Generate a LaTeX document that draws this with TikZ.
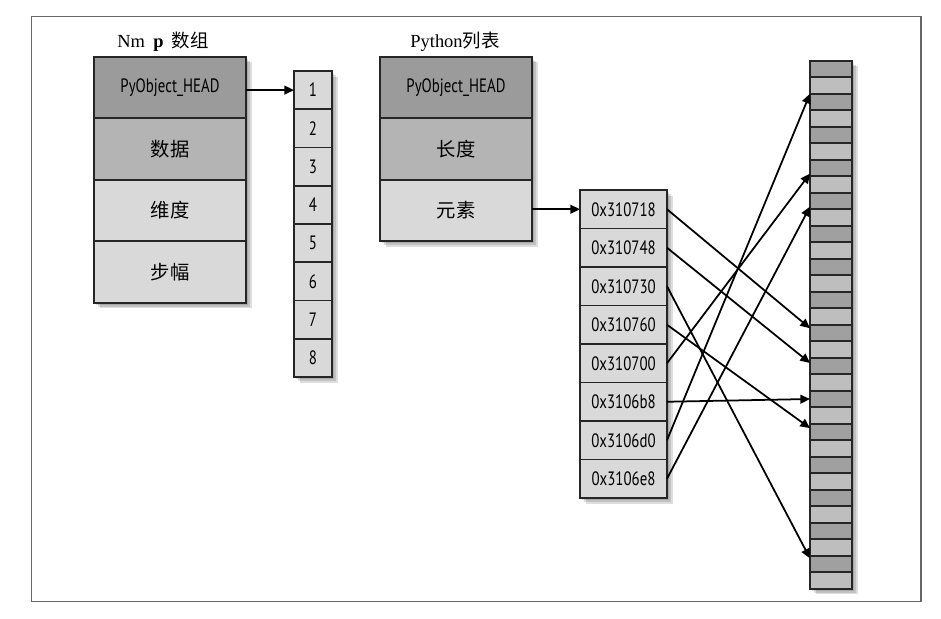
\documentclass[tikz,border=0pt]{standalone}
\usepackage{fontspec}
\setmainfont{Liberation Serif}
\newfontfamily\cjkfont{Noto Sans CJK SC}
\newfontfamily\boxfont[FakeStretch=0.77]{PT Sans}
\usetikzlibrary{arrows.meta,positioning,backgrounds}
\definecolor{cellhead}{HTML}{9B9B9B}
\definecolor{cellmid}{HTML}{B4B4B4}
\definecolor{celllight}{HTML}{D9D9D9}
\definecolor{memdark}{HTML}{A0A0A0}
\definecolor{memlight}{HTML}{BEBEBE}
\newcommand\zh[1]{{\cjkfont #1}}
\newcommand\boxshadow[2]{%
  \foreach \s in {1.2,2.2,3.2}
    \fill[black,opacity=0.13] ([shift={(\s pt,-\s pt)}]#1.north west)
      rectangle ([shift={(\s pt,-\s pt)}]#2.south east);}

\begin{document}
\begin{tikzpicture}[x=0.02cm,y=-0.02cm,
    cell/.style={draw=black!85,line width=1.1pt,inner sep=0pt,outer sep=0pt,
      font=\boxfont\fontsize{11}{13}\selectfont},
    field/.style={cell,minimum width=3.04cm,minimum height=1.23cm},
    slot/.style={cell,fill=celllight,minimum width=0.76cm,minimum height=0.765cm},
    addr/.style={cell,fill=celllight,minimum width=1.74cm,minimum height=0.77cm},
    memcell/.style={cell,minimum width=0.84cm,minimum height=0.33cm},
    ptr/.style={-{Triangle[length=5.5pt,width=5pt]},line width=1pt},
    title/.style={anchor=base,font=\fontsize{10.5}{12}\selectfont}]
  \useasboundingbox (0,0) rectangle (941,619);
  \draw[black!60,line width=0.6pt] (31.7,16.3) rectangle (921,601.7);

  % NumPy array
  \node[title] (np-title) at (163,47) {Nm\hspace{0.45em}\textbf{p}\hspace{0.45em}\zh{数组}};
  \node[field,fill=cellhead] (np-head) at (170,87.5) {PyObject\_HEAD};
  \node[field,fill=cellmid,below=0pt of np-head] (np-data) {\zh{数据}};
  \node[field,fill=celllight,below=0pt of np-data] (np-dims) {\zh{维度}};
  \node[field,fill=celllight,below=0pt of np-dims] (np-strides) {\zh{步幅}};
  \foreach \i in {1,...,8}
    \node[slot] (d\i) at (313,{90.1+38.25*(\i-1)}) {\i};

  % Python list
  \node[title] (py-title) at (455,47) {Python\zh{列表}};
  \node[field,fill=cellhead] (py-head) at (456,87.5) {PyObject\_HEAD};
  \node[field,fill=cellmid,below=0pt of py-head] (py-len) {\zh{长度}};
  \node[field,fill=celllight,below=0pt of py-len] (py-items) {\zh{元素}};
  \foreach \a [count=\i] in {310718,310748,310730,310760,310700,3106b8,3106d0,3106e8}
    \node[addr] (a\i) at (623.5,{209.25+38.5*(\i-1)}) {0x\a};

  % memory
  \foreach \i in {0,...,31} {
    \ifodd\i\def\memfill{memlight}\else\def\memfill{memdark}\fi
    \node[memcell,fill=\memfill] (m\i) at (831,{69+16.5*\i}) {};
  }

  \begin{scope}[on background layer]
    \boxshadow{np-head}{np-strides}
    \boxshadow{d1}{d8}
    \boxshadow{py-head}{py-items}
    \boxshadow{a1}{a8}
    \boxshadow{m0}{m31}
  \end{scope}

  \draw[ptr] (np-head.east|-d1.west) -- (d1.west);
  \draw[ptr] (py-items.east|-a1.west) -- (a1.west);
  \draw[ptr] (a1.east) -- ([yshift=-2pt]m16.north west);
  \draw[ptr] (a2.east) -- ([yshift=-3pt]m18.north west);
  \draw[ptr] (a3.east) -- ([yshift=-1.5pt]m30.north west);
  \draw[ptr] (a4.east) -- ([yshift=-2.5pt]m22.north west);
  \draw[ptr] (a5.east) -- ([yshift=1.5pt]m6.south west);
  \draw[ptr] (a6.east) -- (m20.west);
  \draw[ptr] (a7.east) -- (m1.south west);
  \draw[ptr] (a8.east) -- ([yshift=1.5pt]m8.south west);
\end{tikzpicture}
\end{document}
